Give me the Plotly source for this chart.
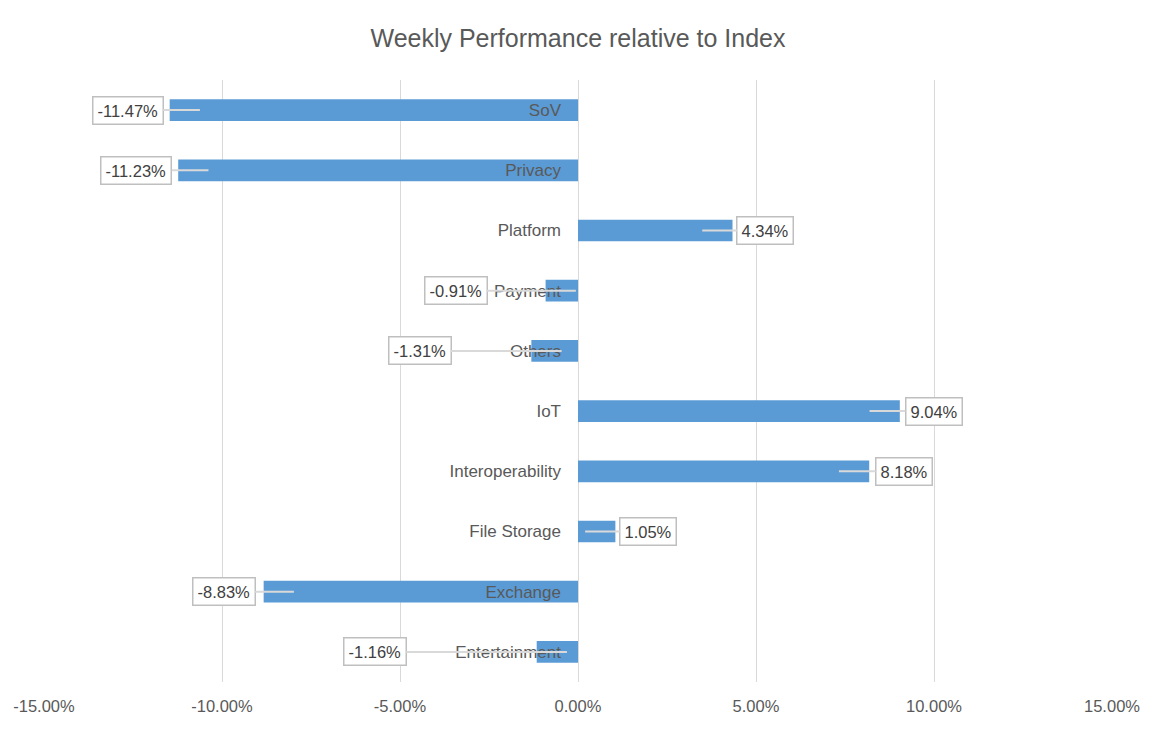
import plotly.graph_objects as go

categories = ["Entertainment", "Exchange", "File Storage", "Interoperability", "IoT",
              "Others", "Payment", "Platform", "Privacy", "SoV"]
values_pct = [-1.16, -8.83, 1.05, 8.18, 9.04, -1.31, -0.91, 4.34, -11.23, -11.47]
tick_vals_pct = [-15, -10, -5, 0, 5, 10, 15]
tick_labels = [f"{v:.2f}%" for v in tick_vals_pct]
label_texts = [f"{v:.2f}%" for v in values_pct]

# callout box offset (pixels) from the pointer tip
label_dx = [-192, -70, 63, 65, 64, -142, -120, 63, -72, -72]

BAR = "#5b9bd5"
TXT = "#595959"
FONT = "Liberation Sans"

fig = go.Figure()
fig.add_trace(go.Bar(
    x=values_pct, y=categories, orientation="h",
    marker=dict(color=BAR, line=dict(width=0)),
    width=0.36, hoverinfo="skip",
))

for cat, v, txt, dx in zip(categories, values_pct, label_texts, label_dx):
    sign = 1 if v > 0 else -1
    tip = v - sign * 0.85
    fig.add_annotation(
        x=tip, y=cat, xref="x", yref="y",
        text=txt, showarrow=True, arrowhead=0, arrowwidth=2,
        arrowcolor="#d9d9d9", ax=dx, ay=0,
        bgcolor="white", bordercolor="#bfbfbf", borderwidth=1.5, borderpad=4,
        font=dict(family=FONT, size=16.5, color="#404040"),
    )

fig.update_layout(
    width=1160, height=736,
    margin=dict(l=44, r=48, t=80, b=54),
    paper_bgcolor="white", plot_bgcolor="white",
    showlegend=False,
    title=dict(text="Weekly Performance relative to Index", x=0.5, xref="paper",
               y=1 - 38 / 736, yref="container", yanchor="middle", xanchor="center",
               font=dict(family=FONT, size=25, color=TXT)),
    xaxis=dict(range=[-15, 15], tickvals=tick_vals_pct, ticktext=tick_labels,
               showgrid=True, gridcolor="#d9d9d9", gridwidth=1,
               zeroline=True, zerolinecolor="#d9d9d9", zerolinewidth=1,
               showline=False, ticks="", ticklabelstandoff=12,
               tickfont=dict(family=FONT, size=16.5, color=TXT)),
    yaxis=dict(anchor="free", position=0.5, showgrid=False, zeroline=False,
               showline=False, ticks="", ticklabelstandoff=17,
               tickfont=dict(family=FONT, size=17, color=TXT)),
)

fig.write_html("out.html", config={"displayModeBar": False},
               post_script="document.body.style.margin='0';document.body.style.padding='0';")
